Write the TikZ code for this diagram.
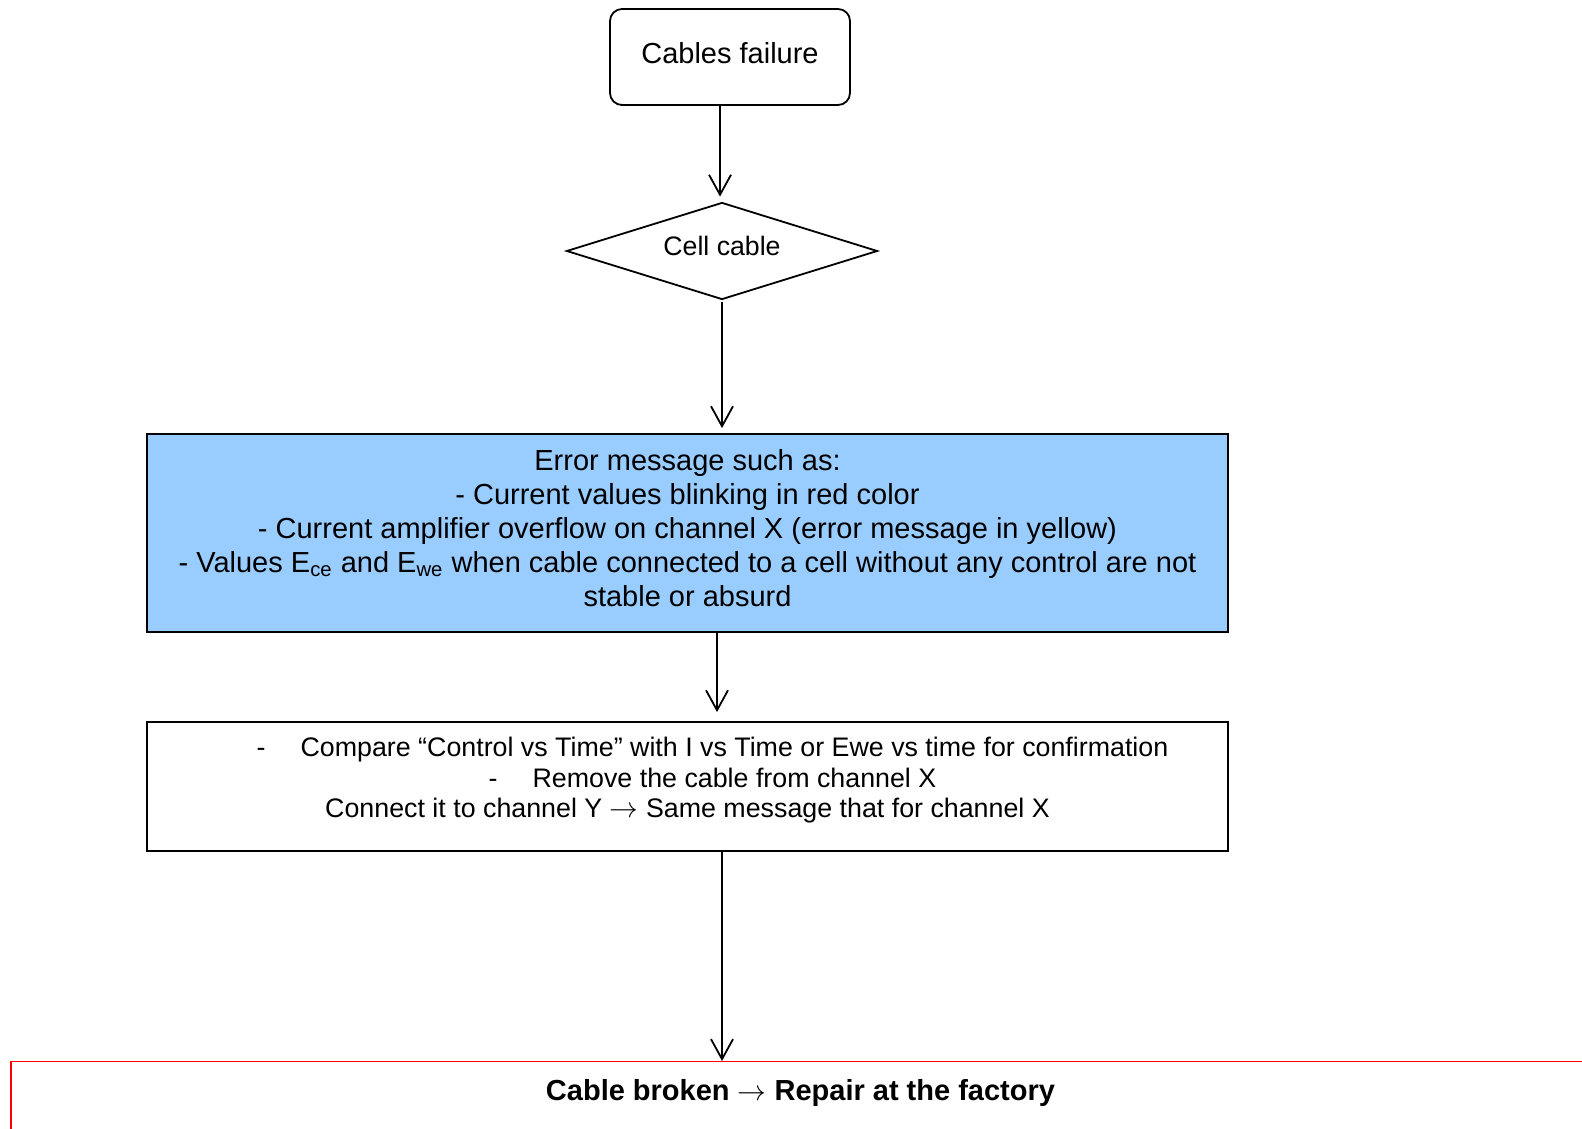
\documentclass[tikz,border=0pt]{standalone}
\usepackage{fontspec}
\setmainfont{Liberation Sans}
\usepackage{tikz}
\usetikzlibrary{shapes.geometric,arrows.meta}
\definecolor{errblue}{RGB}{153,204,255}

\begin{document}
\begin{tikzpicture}[x=0.5pt,y=-0.5pt,
	box/.style={draw,line width=0.9pt,align=center,inner sep=0pt},
	arr/.style={-{Straight Barb[length=10pt,width=11pt]},line width=0.9pt}]
	\useasboundingbox (0,0) rectangle (1582,1128);
	\node[box,rounded corners=6pt,minimum width=120pt,minimum height=48pt,text height=10.5pt,text depth=4pt,
		font=\fontsize{14.5}{17}\selectfont] (fail) at (730,57) {Cables failure};
	\node[box,diamond,aspect=3.2,minimum width=155.5pt,minimum height=48.5pt,text height=9.8pt,text depth=5pt,
		font=\fontsize{13.35}{15}\selectfont] (cell) at (722,251) {Cell cable};
	\node[box,fill=errblue,minimum width=540.5pt,minimum height=99pt,
		font=\fontsize{14.5}{17}\selectfont] (err) at (687.5,533)
	{Error message such as:\\
		- Current values blinking in red color\\
		- Current amplifier overflow on channel X (error message in yellow)\\
		- Values E\textsubscript{ce} and E\textsubscript{we} when cable connected to a cell without any control are not\\
		stable or absurd\\[-12pt]\rule{0pt}{1pt}};
	\node[box,minimum width=540.5pt,minimum height=64.5pt,
		font=\fontsize{13.4}{15.2}\selectfont] (check) at (687.5,786.5)
	{\hspace*{25pt}-\hspace{17.5pt}Compare “Control vs Time” with I vs Time or Ewe vs time for confirmation\\
		\hspace*{25pt}-\hspace{17.5pt}Remove the cable from channel X\\
		Connect it to channel Y $\rightarrow$ Same message that for channel X\\[-6pt]\rule{0pt}{1pt}};
	% runs past the right and bottom edge
	\node[draw=red,line width=0.7pt,anchor=north,inner sep=0pt,minimum width=789.5pt,
		text height=19.5pt,text depth=25pt,font=\fontsize{14.5}{17}\bfseries] (fix) at (800.5,1061)
	{Cable broken $\rightarrow$ Repair at the factory};
	\path[arr]
	([xshift=-5pt]fail.south) edge ([xshift=-1pt,yshift=2.5pt]cell.north)
	([yshift=-1pt]cell.south) edge ([yshift=2.5pt]cell.south |- err.north)
	([xshift=14.75pt]err.south) edge ([xshift=14.75pt,yshift=4.5pt]err.south |- check.north)
	([xshift=17.25pt]check.south) edge ([xshift=17.25pt]check.south |- fix.north);
\end{tikzpicture}
\end{document}
